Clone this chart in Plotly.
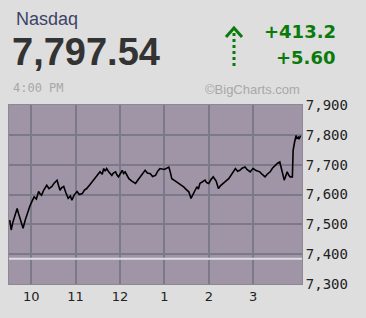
import plotly.graph_objects as go

# minutes since 9:30 and index values
minutes = [1, 3, 5, 8, 11, 13, 16, 19, 22, 26, 28, 31, 34, 37, 40, 42, 44, 47, 51, 54, 58, 61,
           65, 67, 69, 71, 74, 77, 80, 83, 85, 88, 92, 95, 99, 102, 105, 109, 114, 118, 123,
           126, 128, 130, 132, 135, 139, 141, 144, 146, 148, 151, 153, 155, 157, 160, 162, 166,
           171, 174, 177, 180, 184, 187, 191, 194, 198, 201, 204, 210, 216, 218, 220, 223,
           227, 231, 236, 239, 243, 246, 250, 254, 256, 258, 261, 265, 267, 270, 273, 276,
           280, 283, 286, 290, 293, 297, 301, 306, 309, 312, 315, 319, 322, 326, 328, 330,
           334, 339, 342, 346, 349, 353, 356, 360, 363, 366, 368, 370, 372, 374, 376, 378,
           380, 383, 384, 386, 388, 389, 391, 392, 394]
values = [7514, 7481, 7505, 7530, 7553, 7535, 7510, 7487, 7515, 7548, 7560, 7577, 7592, 7585,
          7610, 7602, 7598, 7615, 7631, 7620, 7627, 7638, 7648, 7630, 7614, 7622, 7627, 7605,
          7587, 7595, 7581, 7598, 7610, 7600, 7603, 7615, 7620, 7632, 7648, 7660, 7676, 7668,
          7687, 7678, 7687, 7675, 7664, 7672, 7676, 7665, 7659, 7672, 7681, 7670, 7676, 7662,
          7653, 7645, 7637, 7648, 7659, 7670, 7681, 7672, 7670, 7660, 7664, 7678, 7687, 7684,
          7692, 7675, 7653, 7648, 7642, 7635, 7626, 7618, 7609, 7587, 7605, 7626, 7618, 7637,
          7642, 7648, 7640, 7637, 7650, 7659, 7645, 7620, 7630, 7637, 7645, 7653, 7668, 7687,
          7678, 7681, 7688, 7692, 7683, 7676, 7682, 7687, 7680, 7676, 7668, 7659, 7668, 7676,
          7688, 7698, 7705, 7709, 7690, 7670, 7648, 7662, 7676, 7665, 7659, 7659, 7748, 7776,
          7798, 7787, 7792, 7785, 7797]

x_tick_vals = [30, 90, 150, 210, 270, 330]
x_tick_text = ["10", "11", "12", "1", "2", "3"]
y_tick_vals = [7300, 7400, 7500, 7600, 7700, 7800, 7900]
y_tick_text = ["7,300", "7,400", "7,500", "7,600", "7,700", "7,800", "7,900"]

index_name = "Nasdaq"
last_value = "7,797.54"
time_label = "4:00 PM"
change_pts = "+413.2"
change_pct = "+5.60"
last_num = 7797.54
prev_close = last_num - 413.2

fig = go.Figure()
fig.add_trace(go.Scatter(x=[0, 396], y=[prev_close, prev_close], mode="lines",
                         line=dict(color="#dcdce2", width=2), hoverinfo="skip", showlegend=False))
fig.add_trace(go.Scatter(x=minutes, y=values, mode="lines",
                         line=dict(color="#000000", width=1.6), showlegend=False))

L, R, T, B = 9, 64, 105, 34
W, H = 366, 318
pw, ph = W - L - R, H - T - B

def px(x):
    return (x - L) / pw

def py(y):
    return (H - B - y) / ph

fig.update_layout(
    width=W, height=H,
    margin=dict(l=L, r=R, t=T, b=B, pad=0),
    paper_bgcolor="#dedede",
    plot_bgcolor="#9f95a7",
    xaxis=dict(range=[0, 396], tickvals=x_tick_vals, ticktext=x_tick_text,
               showgrid=True, gridcolor="#7c7a88", gridwidth=2, zeroline=False,
               ticks="", tickfont=dict(family="DejaVu Sans", size=13, color="#222"),
               showline=True, linecolor="#8c8894", linewidth=1, mirror=True, fixedrange=True),
    yaxis=dict(range=[7300, 7900], side="right", tickvals=y_tick_vals, ticktext=y_tick_text,
               showgrid=True, gridcolor="#7c7a88", gridwidth=2, zeroline=False,
               ticks="", tickfont=dict(family="DejaVu Sans Mono", size=14, color="#222"),
               showline=True, linecolor="#8c8894", linewidth=1, mirror=True, fixedrange=True),
    showlegend=False,
)

ann = [
    dict(text=index_name, x=px(14), y=py(19), xanchor="left", yanchor="middle",
         font=dict(family="Liberation Sans", size=18, color="#3d4466")),
    dict(text="<b>" + last_value + "</b>", x=px(10), y=py(52), xanchor="left", yanchor="middle",
         font=dict(family="Liberation Sans", size=38, color="#333333")),
    dict(text=time_label, x=px(11), y=py(88), xanchor="left", yanchor="middle",
         font=dict(family="DejaVu Sans Mono", size=12, color="#a8a8a8")),
    dict(text="©BigCharts.com", x=px(302), y=py(89), xanchor="right", yanchor="middle",
         font=dict(family="Liberation Sans", size=13, color="#a8a8a8")),
    dict(text="<b>" + change_pts + "</b>", x=px(338), y=py(32), xanchor="right", yanchor="middle",
         font=dict(family="DejaVu Sans", size=18, color="#0a7a0a")),
    dict(text="<b>" + change_pct + "</b>", x=px(338), y=py(57), xanchor="right", yanchor="middle",
         font=dict(family="DejaVu Sans", size=18, color="#0a7a0a")),
]
fig.update_layout(annotations=[dict(a, xref="paper", yref="paper", showarrow=False) for a in ann])

shapes = [
    dict(type="line", xref="paper", yref="paper", x0=px(234), x1=px(234), y0=py(33), y1=py(66),
         line=dict(color="#0a7a0a", width=3, dash="dot")),
    dict(type="path", xref="paper", yref="paper",
         path=f"M {px(226)} {py(37)} L {px(234)} {py(28)} L {px(242)} {py(37)}",
         line=dict(color="#0a7a0a", width=3)),
]
fig.update_layout(shapes=shapes)

fig.write_html("out.html")
